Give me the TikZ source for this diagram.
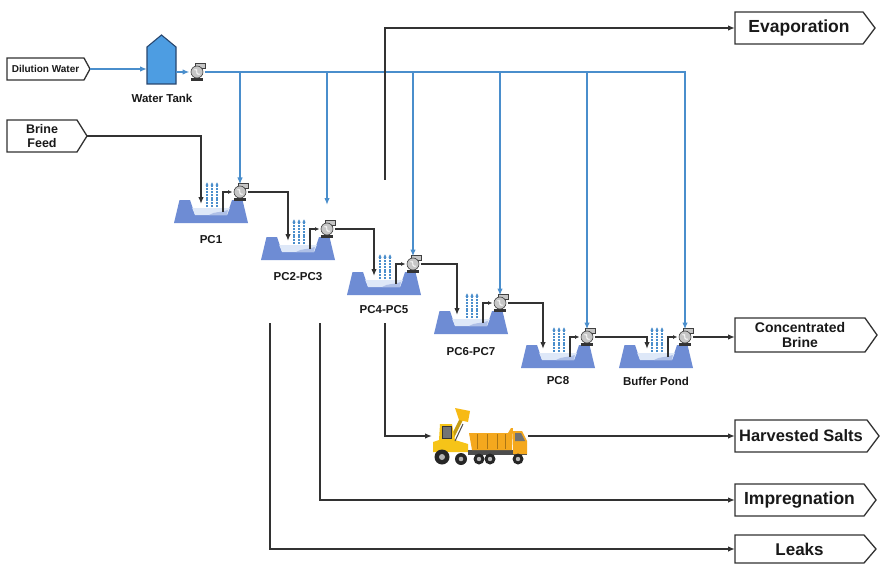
\documentclass[tikz,border=0pt]{standalone}
\usepackage{fontspec}
\setmainfont{Liberation Sans}
\usetikzlibrary{arrows.meta,calc}

\definecolor{pipe}{RGB}{50,50,50}
\definecolor{water}{RGB}{74,142,204}
\definecolor{pondblue}{RGB}{110,140,212}
\definecolor{pondlight}{RGB}{222,232,248}
\definecolor{tankblue}{RGB}{77,157,226}
\definecolor{tankedge}{RGB}{40,70,110}
\definecolor{textdark}{RGB}{25,25,25}
\definecolor{loaderyellow}{RGB}{246,196,24}
\definecolor{dumporange}{RGB}{244,168,30}

\tikzset{
  brine/.style={draw=pipe, line width=1.8pt, -{Latex[length=7pt,width=5.5pt]}},
  suction/.style={line width=1.3pt, -{Latex[length=4.5pt,width=4pt]}},
  waterline/.style={draw=water, line width=1.8pt, -{Latex[length=7pt,width=5.5pt]}},
  evap/.style={draw=water, line width=1.1pt, dash pattern=on 2pt off 0.8pt, -{Latex[length=3.5pt,width=3.5pt]}},
  boxtext/.style={inner sep=0pt, outer sep=0pt, align=center, text=textdark},
  boxline/.style={draw=pipe, line width=1.3pt, fill=white},
  pumpnode/.style={circle, minimum size=15pt, inner sep=0pt, outer sep=0pt},
  pondlabel/.style={text=textdark, font=\fontsize{11.5}{13}\selectfont\bfseries},
  pumpicon/.pic={
    \fill[black!80] (-4.5,4.5) rectangle (5,7);
    \draw[draw=black!75, fill=gray!45, line width=0.6pt]
      (-1,-6.8) rectangle (7,-3);
    \draw[draw=black!75, fill=gray!45, line width=0.6pt] (0,0) circle (4.8);
    \draw[white, line width=0.9pt] (-2.2,-1.8) .. controls (2.5,-3) and (-3,2) .. (2.2,1.8);
  }
}

% labelled box with a pointed right end: name, left x, tip x, top y, bottom y, point depth, font size, text
\newcommand\outbox[8]{%
  \pgfmathsetmacro\obw{#3-#6-#2}%
  \pgfmathsetmacro\obh{#5-#4}%
  \pgfmathsetmacro\obl{#7*1.12}%
  \node[boxtext, minimum width=\obw pt, minimum height=\obh pt]
        (#1) at ({(#2+#3-#6)/2},{(#4+#5)/2}) {};
  \draw[boxline] (#1.north west) -- (#1.north east) -- ($(#1.east)+(#6,0)$)
        -- (#1.south east) -- (#1.south west) -- cycle;
  \node[boxtext, font=\fontsize{#7}{\obl}\selectfont\bfseries] (#1-text) at (#1.center) {#8};
  \coordinate (#1-tip) at ($(#1.east)+(#6,0)$);
}

% concentration pond with its pump: name, centre x, bottom y, inlet offset, label offset, label
\newcommand\pondunit[6]{%
  \begin{scope}[shift={(#2,#3)}]
    \fill[pondblue] (-37,0) -- (-31.5,-23) -- (-21,-23) -- (-16,-8) -- (16,-8)
      -- (21,-23) -- (31.5,-23) -- (37,0) -- cycle;
    \fill[pondlight] (-16,-8) -- (16,-8) -- (18.8,-15) -- (-18.8,-15) -- cycle;
    \fill[pondblue!55] (-2,-8) .. controls (4,-12) and (10,-10) .. (16.8,-13) -- (16,-8) -- cycle;
    \foreach \dx in {-4,1,6} \draw[evap] (\dx,-16) -- (\dx,-41);
    \coordinate (#1-in) at (#4,-19);
    \coordinate (#1-s) at (12,-11);
    \node[pumpnode] (#1-p) at (29,-31) {};
    \pic[scale=1.25] at (29,-31) {pumpicon};
    \draw[brine, suction] (#1-s) |- (#1-p.west);
    \node[pondlabel] (#1-l) at (0,#5) {#6};
  \end{scope}
}

\begin{document}
\begin{tikzpicture}[x=1pt, y=-1pt]
  \useasboundingbox (0,0) rectangle (880,564);
  \fill[white] (0,0) rectangle (880,564);

  % inputs
  \outbox{dil}{7}{90}{58}{80}{6}{10}{Dilution Water}
  \outbox{bf}{7}{87}{120}{152}{10}{12.5}{Brine\\Feed}

  % water tank
  \node[inner sep=0pt, outer sep=0pt, minimum width=29pt, minimum height=38pt] (tank) at (161.5,65) {};
  \draw[fill=tankblue, draw=tankedge, line width=1.1pt]
    (147,84) -- (147,47) -- (161.5,35) -- (176,47) -- (176,84) -- cycle;
  \node[pondlabel] (tanklabel) at (162,98) {Water Tank};
  \node[pumpnode] (p0) at (197,72) {};
  \pic[scale=1.25] at (197,72) {pumpicon};

  % ponds
  \pondunit{pc1}{211}{223}{-10}{17}{PC1}
  \pondunit{pc23}{298}{260}{-10}{17}{PC2-PC3}
  \pondunit{pc45}{384}{295}{-10}{15}{PC4-PC5}
  \pondunit{pc67}{471}{334}{-14}{18}{PC6-PC7}
  \pondunit{pc8}{558}{368}{-15}{13}{PC8}
  \pondunit{bp}{656}{368}{-9}{13}{Buffer Pond}

  % outputs
  \outbox{evap}{735}{875}{12}{44}{12}{17.5}{Evaporation}
  \outbox{cb}{735}{877}{318}{352}{12}{14}{Concentrated\\Brine}
  \outbox{hs}{735}{879}{420}{452}{12}{16.5}{Harvested Salts}
  \outbox{imp}{735}{876}{484}{516}{12}{17.5}{Impregnation}
  \outbox{lk}{735}{876}{535}{563}{12}{17}{Leaks}

  % dilution water supply
  \draw[waterline] (dil-tip) -- (tank.west |- dil-tip);
  \draw[waterline] (tank.east |- p0.west) -- (p0.west);
  \draw[waterline] (p0.east) -| (bp-p.north);
  \foreach \n in {pc1,pc45,pc67,pc8}
    \draw[waterline] (\n-p.north |- p0.east) -- (\n-p.north);
  \coordinate (pc23-w) at (327,205);
  \draw[waterline] (pc23-w |- p0.east) -- (pc23-w);

  % brine transfer between ponds
  \draw[brine] (bf-tip) -| (pc1-in);
  \draw[brine] (pc1-p.east) -| (pc23-in);
  \draw[brine] (pc23-p.east) -| (pc45-in);
  \draw[brine] (pc45-p.east) -| (pc67-in);
  \draw[brine] (pc67-p.east) -| (pc8-in);
  \draw[brine] (pc8-p.east) -| (bp-in);
  \draw[brine] (bp-p.east) -- (cb.west |- bp-p.east);

  % losses and harvest
  \coordinate (evs) at (385,180);
  \coordinate (hvs) at (385,323);
  \coordinate (ims) at (320,323);
  \coordinate (lks) at (270,323);
  \node[inner sep=0pt, outer sep=0pt, minimum width=96pt, minimum height=56pt] (truck) at (480,436) {};
  \draw[brine] (evs) |- (evap.west);
  \draw[brine] (hvs) |- (truck.west);
  \draw[brine] (truck.east) -- (hs.west);
  \draw[brine] (ims) |- (imp.west);
  \draw[brine] (lks) |- (lk.west);

  % wheel loader
  \draw[loaderyellow!80!black, line width=3.5pt, line cap=round] (452,438) -- (462,418);
  \fill[loaderyellow!85!orange] (455,408) -- (470,411) -- (468,422) -- (459,420) -- cycle;
  \fill[loaderyellow] (433,452) -- (433,442) -- (439,440) -- (440,424) -- (452,424)
    -- (455,440) -- (468,444) -- (468,452) -- cycle;
  \draw[black!80, fill=black!55, line width=0.8pt] (442,426) rectangle (451,438);
  \draw[black!70, line width=1pt] (455,441) -- (463,424);
  \fill[black!85] (442,457) circle (7.5);
  \fill[gray!60] (442,457) circle (3);
  \fill[black!85] (461,459) circle (6);
  \fill[gray!60] (461,459) circle (2.3);

  % dump truck
  \fill[black!70] (468,450) rectangle (527,455);
  \fill[dumporange] (469,433) -- (508,433) -- (511,428) -- (513,428) -- (512,450) -- (472,450) -- cycle;
  \foreach \rx in {477,487,497,505}
    \draw[dumporange!70!black, line width=0.6pt] (\rx,434) -- (\rx,449);
  \fill[dumporange] (513,431) -- (522,431) -- (527,441) -- (527,454) -- (513,454) -- cycle;
  \fill[black!55] (515,433) -- (521,433) -- (525,441) -- (515,441) -- cycle;
  \foreach \wx in {479,490,518} {
    \fill[black!85] (\wx,459) circle (5.5);
    \fill[gray!55] (\wx,459) circle (2.2);
  }
\end{tikzpicture}
\end{document}
